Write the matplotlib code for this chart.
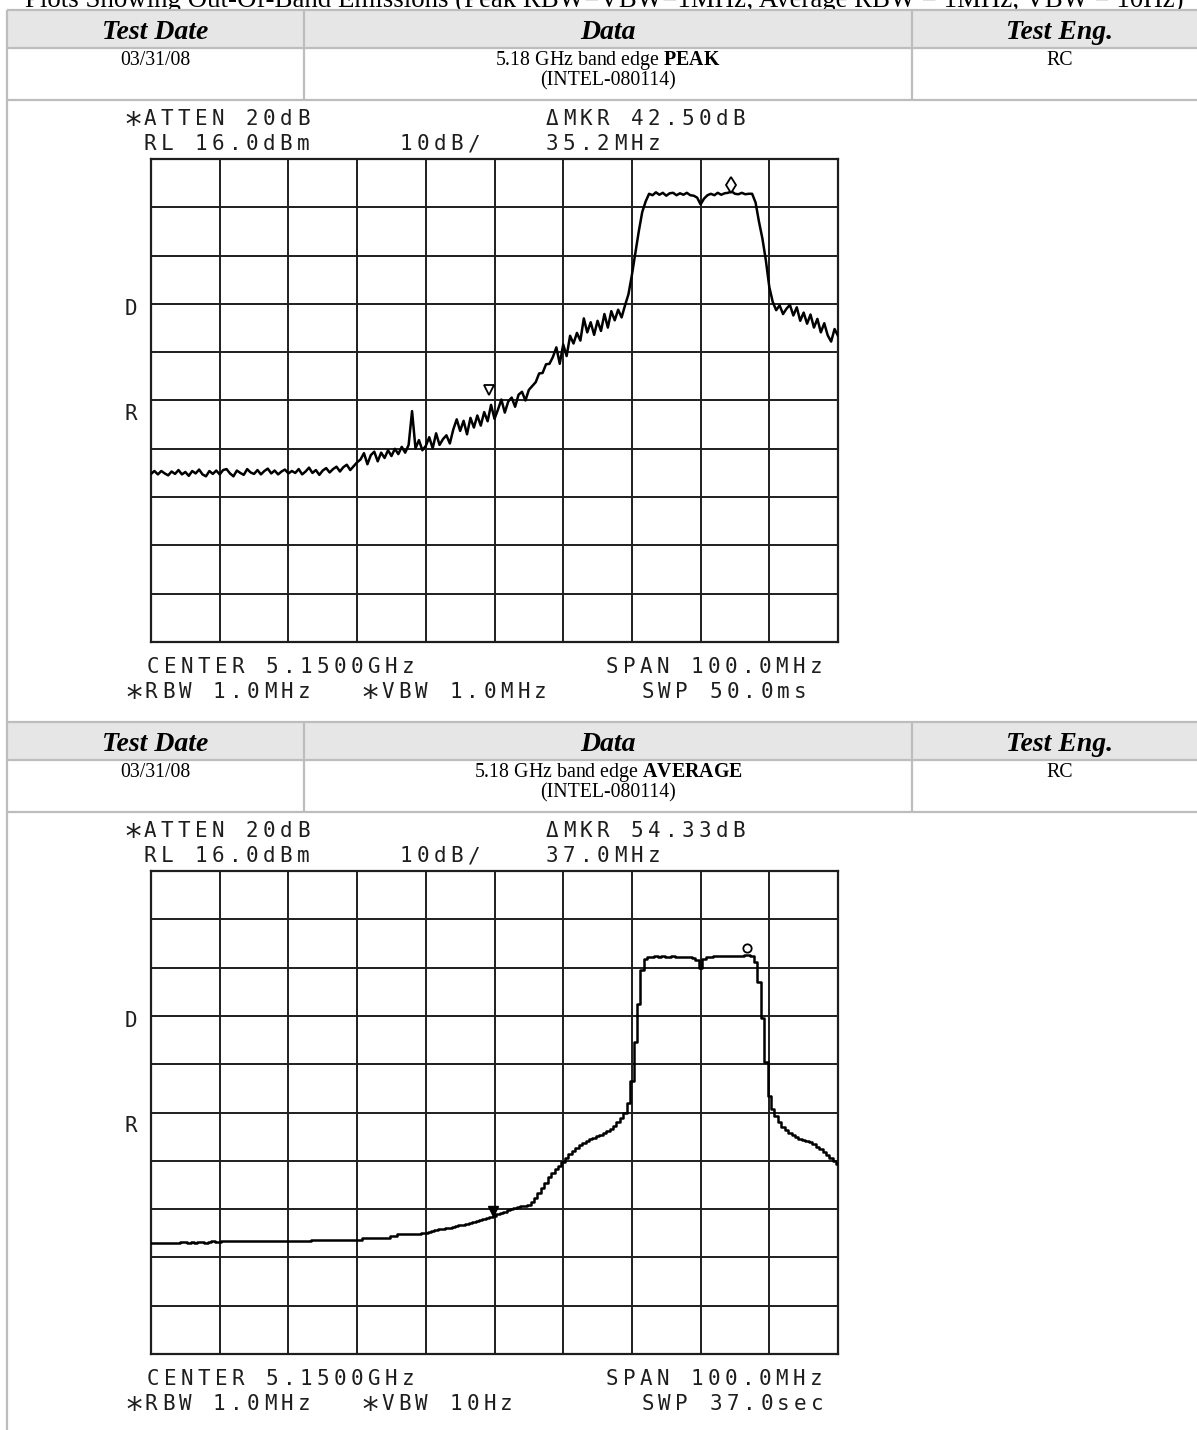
import matplotlib
matplotlib.use("Agg")
import matplotlib.pyplot as plt
from matplotlib.patches import Rectangle
import numpy as np

# ---------------- data ----------------
title_text = "Plots Showing Out-Of-Band Emissions (Peak RBW=VBW=1MHz; Average RBW = 1MHz, VBW = 10Hz)"
header_labels = ["Test Date", "Data", "Test Eng."]
test_date = "03/31/08"
test_eng = "RC"
sample_id = "(INTEL-080114)"
plot_kinds = ["PEAK", "AVERAGE"]

f_start, f_stop = 5100.0, 5200.0      # CENTER 5.1500GHz, SPAN 100.0MHz
ref_level, db_per_div = 16.0, 10.0    # RL 16.0dBm, 10dB/

# Peak trace (dBm), 0.5 MHz steps, 5100 -> 5200 MHz
peak_floor = [-49.2, -48.6, -49.3, -48.6, -49.1, -49.5, -48.7, -49.2, -48.4, -49.3,
              -48.8, -49.6, -48.6, -49.1, -48.3, -49.3, -49.7, -48.6, -49.2, -48.5,
              -49.3, -48.4, -48.2, -49.1, -49.7, -48.5, -49.0, -49.4, -48.2, -48.9,
              -49.2, -48.4, -49.3, -48.6, -48.1, -49.1, -48.5, -49.3, -48.7, -48.3,
              -49.1, -48.6, -49.0, -48.2, -49.3, -48.7, -47.9, -49.0, -48.4, -49.4,
              -48.5, -48.0, -48.9, -48.2, -47.7, -48.7, -47.8, -47.3, -48.4, -47.6,
              -46.8]
peak_skirt1 = [-46.2, -44.9, -47.2, -45.3, -44.6, -46.6, -44.8, -45.9, -44.3, -45.5,
               -44.0, -45.1, -43.6, -44.8, -43.2, -36.2, -43.9, -42.2, -44.3, -43.4]
peak_skirt2 = [-41.6, -43.9, -40.8, -43.2, -42.0, -41.2, -42.9, -40.0, -37.9, -40.3,
               -38.2, -41.0, -37.6, -39.6, -37.1, -39.2, -36.4, -38.3, -34.9, -37.8]
peak_skirt3 = [-35.9, -33.8, -36.5, -34.2, -33.4, -35.3, -32.8, -32.2, -34.0, -31.8,
               -31.0, -30.2, -28.4, -28.3, -26.5, -26.4, -25.0, -23.0, -26.4, -22.4]
peak_skirt4 = [-24.8, -20.6, -22.2, -20.0, -21.6, -17.0, -19.9, -17.8, -20.4, -17.5,
               -19.6, -16.1, -18.9, -15.5, -17.4, -15.2, -16.8, -14.3, -12.0, -8.0]
peak_band = [-3.5, 1.0, 5.0, 7.2, 8.8, 8.5, 9.1, 8.6, 9.0, 8.4,
             8.9, 9.0, 8.5, 8.9, 8.6, 9.0, 8.5, 8.4, 8.0, 6.6,
             7.8, 8.5, 8.8, 8.5, 9.0, 8.6, 8.9, 9.0, 9.3, 8.8,
             8.7, 9.0, 8.7, 8.8, 8.8, 7.0, 3.0, -0.5, -5.0, -10.5]
peak_upper = [-13.6, -15.3, -14.3, -16.1, -15.0, -14.2, -16.4, -14.7, -17.5, -15.8,
              -18.1, -16.2, -18.9, -17.1, -19.9, -18.0, -20.5, -21.8, -19.2, -20.6]

# Average trace (dBm), 0.5 MHz steps, 5100 -> 5200 MHz
avg_floor = [-61.0, -61.0, -61.0, -61.0, -61.0, -61.0, -61.0, -61.0, -61.0, -60.8,
             -60.8, -61.0, -60.8, -61.0, -60.8, -60.8, -61.0, -60.9, -60.7, -60.8,
             -60.9, -60.7, -60.65, -60.65, -60.65, -60.65, -60.65, -60.65, -60.65, -60.65,
             -60.65, -60.65, -60.65, -60.65, -60.65, -60.65, -60.65, -60.65, -60.65, -60.65,
             -60.65, -60.65, -60.65, -60.65, -60.65, -60.65, -60.65, -60.4, -60.4, -60.4,
             -60.4, -60.4, -60.4, -60.4, -60.4, -60.4, -60.4, -60.4, -60.4, -60.4,
             -60.4]
avg_skirt1 = [-60.4, -60.0, -60.0, -60.0, -60.0, -60.0, -60.0, -60.0, -60.0, -59.5,
              -59.5, -59.2, -59.2, -59.2, -59.2, -59.2, -59.2, -59.2, -59.0, -58.9]
avg_skirt2 = [-58.7, -58.6, -58.4, -58.2, -58.1, -58.0, -57.9, -57.7, -57.5, -57.3,
              -57.2, -57.0, -56.8, -56.6, -56.5, -56.3, -56.1, -55.9, -55.7, -55.4]
avg_skirt3 = [-55.1, -54.8, -54.5, -54.2, -54.0, -53.8, -53.6, -53.4, -53.3, -53.1,
              -52.5, -51.6, -50.6, -49.6, -48.5, -47.4, -46.6, -45.8, -45.0, -44.3]
avg_skirt4 = [-43.4, -42.6, -41.9, -41.3, -40.8, -40.3, -39.9, -39.5, -39.2, -38.9,
              -38.6, -38.2, -37.8, -37.4, -36.8, -36.0, -35.2, -34.2, -32.0, -27.5]
avg_band = [-19.5, -11.5, -4.5, -2.2, -1.9, -1.9, -1.7, -1.9, -1.7, -1.9,
            -1.9, -1.7, -1.9, -1.9, -1.9, -1.9, -1.9, -2.0, -2.4, -4.0,
            -2.2, -1.8, -1.8, -1.6, -1.6, -1.6, -1.6, -1.6, -1.6, -1.6,
            -1.5, -1.5, -1.4, -1.3, -1.6, -2.8, -7.0, -14.5, -23.5, -30.5]
avg_upper = [-33.2, -34.8, -36.0, -36.9, -37.6, -38.2, -38.7, -39.1, -39.4, -39.7,
             -40.0, -40.2, -40.6, -41.1, -41.6, -42.2, -42.8, -43.4, -44.0, -44.6]

# markers: (freq MHz, level dBm)
peak_ref_marker = (5184.4, 10.6)
peak_delta_marker = (5149.2, -31.9)
avg_ref_marker = (5186.8, 0.0)
avg_delta_marker = (5149.8, -54.3)

peak_top_lines = ["*ATTEN 20dB", "\u0394MKR 42.50dB", "RL 16.0dBm", "10dB/", "35.2MHz"]
peak_bottom_lines = ["CENTER 5.1500GHz", "SPAN 100.0MHz", "*RBW 1.0MHz", "*VBW 1.0MHz", "SWP 50.0ms"]
avg_top_lines = ["*ATTEN 20dB", "\u0394MKR 54.33dB", "RL 16.0dBm", "10dB/", "37.0MHz"]
avg_bottom_lines = ["CENTER 5.1500GHz", "SPAN 100.0MHz", "*RBW 1.0MHz", "*VBW 10Hz", "SWP 37.0sec"]

peak_levels = peak_floor + peak_skirt1 + peak_skirt2 + peak_skirt3 + peak_skirt4 + peak_band + peak_upper
avg_levels = avg_floor + avg_skirt1 + avg_skirt2 + avg_skirt3 + avg_skirt4 + avg_band + avg_upper

# ---------------- figure ----------------
plt.rcParams["mathtext.fontset"] = "custom"
plt.rcParams["mathtext.rm"] = "Liberation Serif"
plt.rcParams["mathtext.bf"] = "Liberation Serif:bold"

W, H = 1197, 1430
fig = plt.figure(figsize=(W / 100, H / 100), dpi=100)
fig.patch.set_facecolor("white")
ax0 = fig.add_axes([0, 0, 1, 1])
ax0.set_xlim(0, W)
ax0.set_ylim(H, 0)
ax0.axis("off")

SERIF = "Liberation Serif"
MONO = "DejaVu Sans Mono"
BORDER = "#bdbdbd"
INK = "#1e1e1e"

ax0.text(25, 7, title_text, fontsize=19.4, family=SERIF, ha="left", va="baseline", zorder=1)

col_edges = [7, 304, 912]
col_centers = [155.5, 608, 1060]

for T, kind in zip([10, 722], plot_kinds):
    ax0.add_patch(Rectangle((7, T), W, 38, facecolor="#e6e6e6", edgecolor="none", zorder=2))
    ax0.add_patch(Rectangle((7, T + 38), W, 52, facecolor="white", edgecolor="none", zorder=2))
    for yy in [T, T + 38, T + 90]:
        ax0.plot([7, W], [yy, yy], color=BORDER, lw=1.6, zorder=3, solid_capstyle="butt")
    for xx in col_edges[1:]:
        ax0.plot([xx, xx], [T, T + 90], color=BORDER, lw=1.6, zorder=3, solid_capstyle="butt")
    for cx, lab in zip(col_centers, header_labels):
        ax0.text(cx, T + 29, lab, fontsize=20, family=SERIF, fontweight="bold",
                 fontstyle="italic", ha="center", va="baseline", zorder=4)
    ax0.text(col_centers[0], T + 55, test_date, fontsize=14.3, family=SERIF,
             ha="center", va="baseline", zorder=4)
    ax0.text(col_centers[1], T + 55, "5.18 GHz band edge $\\mathbf{%s}$" % kind,
             fontsize=14.3, family=SERIF, ha="center", va="baseline", zorder=4)
    ax0.text(col_centers[1], T + 75, sample_id, fontsize=14.3, family=SERIF,
             ha="center", va="baseline", zorder=4)
    ax0.text(col_centers[2], T + 55, test_eng, fontsize=14.3, family=SERIF,
             ha="center", va="baseline", zorder=4)

ax0.plot([7, 7], [10, H], color=BORDER, lw=1.6, zorder=3, solid_capstyle="butt")

PITCH = 17.0
HP_SIZE = 15.0


def hp_text(x0, yb, s):
    em = HP_SIZE * 100 / 72.0
    for i, ch in enumerate(s):
        if ch == " ":
            continue
        cx = x0 + (i + 0.5) * PITCH
        if ch == "*":
            big = HP_SIZE * 1.55
            emb = big * 100 / 72.0
            ax0.text(cx, yb - 0.36 * em + 0.51 * emb, "*", fontsize=big, family=MONO,
                     ha="center", va="baseline", color=INK, zorder=5)
        else:
            ax0.text(cx, yb, ch, fontsize=HP_SIZE, family=MONO, ha="center",
                     va="baseline", color=INK, zorder=5)


def spectrum_plot(top_px, levels, steps, ref_mk, delta_mk, ref_style, delta_style, top_lines, bottom_lines):
    dy = top_px - 159
    ax = fig.add_axes([151 / W, 1 - (top_px + 483) / H, 687 / W, 483 / H])
    ax.set_xlim(f_start, f_stop)
    ax.set_ylim(ref_level - 10 * db_per_div, ref_level)
    ax.set_xticks(np.linspace(f_start, f_stop, 11))
    ax.set_yticks(np.linspace(ref_level - 10 * db_per_div, ref_level, 11))
    ax.grid(True, color=INK, lw=1.4)
    ax.tick_params(length=0, labelbottom=False, labelleft=False)
    for sp in ax.spines.values():
        sp.set_linewidth(1.6)
        sp.set_color(INK)
    freq = np.linspace(f_start, f_stop, len(levels))
    ax.plot(freq, levels, drawstyle="steps-mid" if steps else "default",
            color="black", lw=1.8, zorder=3)
    ax.plot([ref_mk[0]], [ref_mk[1]], linestyle="none", zorder=4, **ref_style)
    ax.plot([delta_mk[0]], [delta_mk[1]], linestyle="none", zorder=4, **delta_style)

    hp_text(124.7, 125 + dy, top_lines[0])
    hp_text(543.5, 125 + dy, top_lines[1])
    hp_text(141.4, 150 + dy, top_lines[2])
    hp_text(397.5, 150 + dy, top_lines[3])
    hp_text(543.5, 150 + dy, top_lines[4])
    hp_text(122.0, 315 + dy, "D")
    hp_text(122.0, 420 + dy, "R")
    hp_text(144.8, 673 + dy, bottom_lines[0])
    hp_text(603.4, 673 + dy, bottom_lines[1])
    hp_text(125.6, 698 + dy, bottom_lines[2])
    hp_text(362.0, 698 + dy, bottom_lines[3])
    hp_text(639.0, 698 + dy, bottom_lines[4])


spectrum_plot(159, peak_levels, False, peak_ref_marker, peak_delta_marker,
              dict(marker="d", markersize=8, mfc="white", mec="black", mew=1.3),
              dict(marker="v", markersize=7, mfc="white", mec="black", mew=1.3),
              peak_top_lines, peak_bottom_lines)
spectrum_plot(871, avg_levels, True, avg_ref_marker, avg_delta_marker,
              dict(marker="o", markersize=6, mfc="white", mec="black", mew=1.3),
              dict(marker="v", markersize=7, mfc="black", mec="black", mew=1.0),
              avg_top_lines, avg_bottom_lines)

fig.savefig("out.png", dpi=100, facecolor="white")
